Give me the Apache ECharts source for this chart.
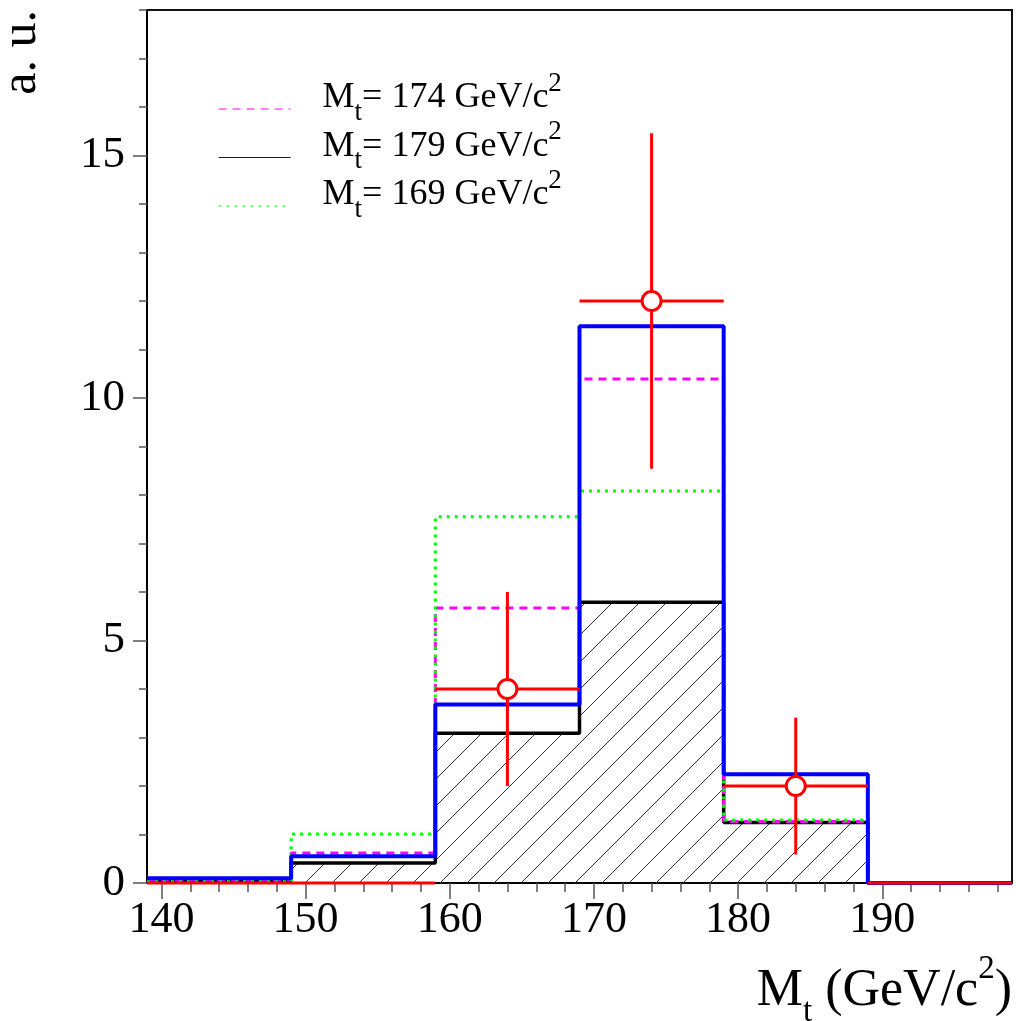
<!DOCTYPE html>
<html>
<head>
<meta charset="utf-8">
<script src="https://cdn.jsdelivr.net/npm/echarts@6/dist/echarts.min.js"></script>
<style>
  html, body { margin: 0; padding: 0; background: #ffffff; }
  #chart { width: 1016px; height: 1021px; }
</style>
</head>
<body>
<div id="chart"></div>
<script>
// Bin edges of the top-mass histograms (GeV/c^2)
const binEdges = [139, 149, 159, 169, 179, 189, 199];

// Template histograms, one value per bin
const bkgHatched = [0.05, 0.41, 3.09, 5.79, 1.25, 0];   // hatched black
const mt174 = [0.07, 0.62, 5.67, 10.39, 1.27, 0];       // magenta dashed
const mt169 = [0.04, 1.01, 7.55, 8.08, 1.30, 0];        // green dotted
const mt179 = [0.10, 0.55, 3.68, 11.48, 2.24, 0];       // blue solid

// Observed data with errors, at bin centres
const dataCenters = [144, 154, 164, 174, 184, 194];
const dataValues = [0, 0, 4, 12, 2, 0];
const dataErrors = [0, 0, 2.0, 3.46, 1.41, 0];

// Axis ticks
const xMajorTicks = [140, 150, 160, 170, 180, 190];
const xMinorTicks = [142, 144, 146, 148, 152, 154, 156, 158, 162, 164, 166, 168,
                     172, 174, 176, 178, 182, 184, 186, 188, 192, 194, 196, 198];
const yMajorTicks = [0, 5, 10, 15];
const yMinorTicks = [1, 2, 3, 4, 6, 7, 8, 9, 11, 12, 13, 14, 16, 17, 18];

const FONT = '"Liberation Serif", "Times New Roman", serif';

// step outline points: each bin value held from its low edge to the next edge
function stepPoints(values) {
  const pts = values.map((v, i) => [binEdges[i], v]);
  pts.push([binEdges[binEdges.length - 1], values[values.length - 1]]);
  return pts;
}

// 45-degree hatch tile
function hatchTile() {
  const s = 27;
  const c = document.createElement('canvas');
  c.width = s; c.height = s;
  const g = c.getContext('2d');
  g.strokeStyle = '#333333';
  g.lineWidth = 1;
  for (const off of [-s, 0, s]) {
    g.beginPath();
    g.moveTo(off, s);
    g.lineTo(off + s, 0);
    g.stroke();
  }
  return c;
}

const legendRich = {
  m: { fontFamily: FONT, fontSize: 36, color: '#000', lineHeight: 56 },
  s: { fontFamily: FONT, fontSize: 27, color: '#000', lineHeight: 27, verticalAlign: 'bottom' },
  p: { fontFamily: FONT, fontSize: 27, color: '#000', lineHeight: 27, verticalAlign: 'top' }
};

const titleRich = {
  m: { fontFamily: FONT, fontSize: 52, color: '#000', lineHeight: 76 },
  s: { fontFamily: FONT, fontSize: 33, color: '#000', lineHeight: 33, verticalAlign: 'bottom' },
  p: { fontFamily: FONT, fontSize: 33, color: '#000', lineHeight: 33, verticalAlign: 'top' }
};

const chart = echarts.init(document.getElementById('chart'), null, { renderer: 'canvas' });

const gridBox = { left: 147, right: 4, top: 10, bottom: 138 };

const option = {
  backgroundColor: '#ffffff',
  animation: false,
  grid: Object.assign({
    show: true, borderColor: '#111', borderWidth: 2,
    containLabel: false, outerBoundsMode: 'none'
  }, gridBox),
  legend: {
    orient: 'vertical',
    left: 218,
    top: 70,
    padding: 0,
    itemWidth: 72,
    itemHeight: 14,
    itemGap: -7.5,
    data: ['174', '179', '169'],
    formatter: n => '{m|M}{s|t}{m|= ' + n + ' GeV/c}{p|2}',
    lineStyle: { width: 1.2 },
    itemStyle: { opacity: 0 },
    textStyle: { padding: [0, 0, 22, 27], rich: legendRich },
    selectedMode: false
  },
  xAxis: [
    {
      type: 'value', min: 139, max: 199, position: 'bottom',
      axisLine: { show: true, lineStyle: { color: '#000', width: 2 } },
      axisTick: { show: true, customValues: xMajorTicks, length: 16, lineStyle: { color: '#555', width: 1.5 } },
      axisLabel: { show: true, customValues: xMajorTicks, fontFamily: FONT, fontSize: 44, color: '#000', margin: 15 },
      splitLine: { show: false },
      name: '{m|M}{s|t}{m| (GeV/c}{p|2}{m|)}',
      nameLocation: 'end',
      nameGap: 0,
      nameTextStyle: { align: 'right', verticalAlign: 'top', padding: [70, 0, 0, 0], rich: titleRich }
    },
    {
      type: 'value', min: 139, max: 199, position: 'bottom',
      axisLine: { show: false },
      axisTick: { show: true, customValues: xMinorTicks, length: 9, lineStyle: { color: '#555', width: 1.5 } },
      axisLabel: { show: false },
      splitLine: { show: false }
    }
  ],
  yAxis: [
    {
      type: 'value', min: 0, max: 18, position: 'left',
      axisLine: { show: true, lineStyle: { color: '#000', width: 2 } },
      axisTick: { show: true, customValues: yMajorTicks, length: 14, lineStyle: { color: '#555', width: 1.5 } },
      axisLabel: { show: true, customValues: yMajorTicks, fontFamily: FONT, fontSize: 45, color: '#000', margin: 22 },
      splitLine: { show: false },
      name: 'a. u.',
      nameLocation: 'end',
      nameGap: 0,
      nameRotate: 90,
      nameTextStyle: { fontFamily: FONT, fontSize: 50, color: '#000', align: 'right', verticalAlign: 'bottom', padding: [0, 0, 100, 0] }
    },
    {
      type: 'value', min: 0, max: 18, position: 'left',
      axisLine: { show: false },
      axisTick: { show: true, customValues: yMinorTicks, length: 8, lineStyle: { color: '#555', width: 1.5 } },
      axisLabel: { show: false },
      splitLine: { show: false }
    }
  ],
  series: [
    {
      name: 'hatched', type: 'line', step: 'end', symbol: 'none', z: 2,
      data: stepPoints(bkgHatched),
      lineStyle: { color: '#000', width: 3.5 },
      areaStyle: { color: { image: hatchTile(), repeat: 'repeat' }, opacity: 1 }
    },
    {
      name: '174', type: 'line', step: 'end', symbol: 'none', z: 3,
      data: stepPoints(mt174),
      lineStyle: { color: '#ff00ff', width: 3, type: [8, 6] }
    },
    {
      name: '169', type: 'line', step: 'end', symbol: 'none', z: 4,
      data: stepPoints(mt169),
      lineStyle: { color: '#00ff00', width: 3, type: [3, 5] }
    },
    {
      name: '179', type: 'line', step: 'end', symbol: 'none', z: 5,
      data: stepPoints(mt179),
      lineStyle: { color: '#0000ff', width: 4 }
    },
    {
      name: 'data', type: 'custom', z: 6,
      data: dataCenters.map((c, i) => [c, dataValues[i], dataErrors[i], binEdges[i], binEdges[i + 1]]),
      encode: { x: 0, y: 1 },
      renderItem: (params, api) => {
        const c = api.value(0), v = api.value(1), e = api.value(2);
        const lo = api.value(3), hi = api.value(4);
        const a = api.coord([lo, v]), b = api.coord([hi, v]);
        const st = { stroke: '#ff0000', lineWidth: 3 };
        const children = [{ type: 'line', shape: { x1: a[0], y1: a[1], x2: b[0], y2: b[1] }, style: st }];
        if (e > 0) {
          const t = api.coord([c, v + e]), d = api.coord([c, v - e]);
          children.push({ type: 'line', shape: { x1: t[0], y1: t[1], x2: d[0], y2: d[1] }, style: st });
        }
        return { type: 'group', children };
      }
    },
    {
      name: 'data markers', type: 'scatter', z: 7,
      data: dataCenters.map((c, i) => [c, dataValues[i]]).filter(d => d[1] > 0),
      symbol: 'circle', symbolSize: 19,
      itemStyle: { color: '#ffffff', borderColor: '#ff0000', borderWidth: 3, opacity: 1 }
    }
  ]
};

chart.setOption(option);
</script>
</body>
</html>
